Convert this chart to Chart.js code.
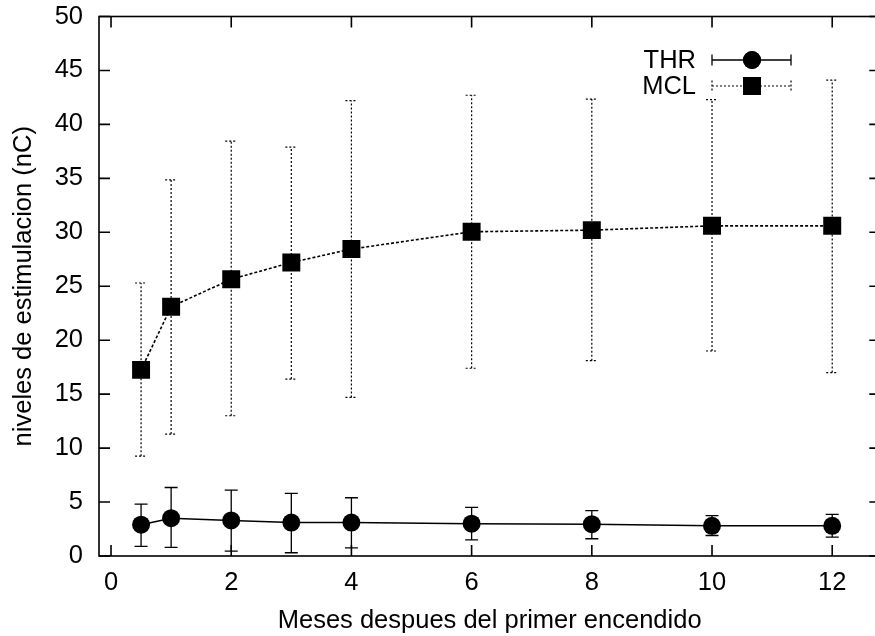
<!DOCTYPE html>
<html>
<head>
<meta charset="utf-8">
<script src="https://cdn.jsdelivr.net/npm/chart.js@4/dist/chart.umd.min.js"></script>
<style>
  html, body { margin: 0; padding: 0; background: #fff; overflow: hidden; }
  #wrap { width: 875px; height: 636px; overflow: hidden; position: relative; }
  canvas { display: block; }
</style>
</head>
<body>
<div id="wrap"><canvas id="c" width="893" height="636"></canvas></div>
<script>
// ---- data ----
const months   = [0.5, 1, 2, 3, 4, 6, 8, 10, 12];
const thrMean  = [2.9, 3.5, 3.3, 3.1, 3.1, 3.0, 2.95, 2.8, 2.8];
const thrLow   = [0.9, 0.8, 0.45, 0.3, 0.75, 1.5, 1.6, 1.9, 1.75];
const thrHigh  = [4.8, 6.35, 6.1, 5.8, 5.4, 4.5, 4.2, 3.75, 3.85];
const mclMean  = [17.25, 23.1, 25.65, 27.2, 28.45, 30.05, 30.2, 30.6, 30.6];
const mclLow   = [9.25, 11.3, 13.0, 16.4, 14.7, 17.4, 18.1, 19.0, 17.0];
const mclHigh  = [25.3, 34.85, 38.45, 37.9, 42.2, 42.7, 42.35, 42.3, 44.1];
const xTicks   = [0, 2, 4, 6, 8, 10, 12];
const yTicks   = [0, 5, 10, 15, 20, 25, 30, 35, 40, 45, 50];
const seriesNames = ['THR', 'MCL'];
const xTitle = 'Meses despues del primer encendido';
const yTitle = 'niveles de estimulacion (nC)';

const FONT = '"Liberation Sans", Arial, sans-serif';
const FSIZE = 25.5;
const toPts = (ys) => months.map((m, i) => ({ x: m, y: ys[i] }));

const errorBars = [
  { low: thrLow, high: thrHigh, dash: [], cap: 6.5, width: 1.3 },
  { low: mclLow, high: mclHigh, dash: [2, 2], cap: 6, width: 1.2 }
];

const framePlugin = {
  id: 'frame',
  beforeDatasetsDraw(chart) {
    const ctx = chart.ctx, xs = chart.scales.x, ys = chart.scales.y;
    ctx.save();
    ctx.strokeStyle = '#000';
    errorBars.forEach(eb => {
      ctx.lineWidth = eb.width;
      ctx.setLineDash(eb.dash);
      months.forEach((m, i) => {
        const px = xs.getPixelForValue(m);
        const pl = ys.getPixelForValue(eb.low[i]);
        const ph = ys.getPixelForValue(eb.high[i]);
        ctx.beginPath();
        ctx.moveTo(px, pl); ctx.lineTo(px, ph);
        ctx.moveTo(px - eb.cap, pl); ctx.lineTo(px + eb.cap, pl);
        ctx.moveTo(px - eb.cap, ph); ctx.lineTo(px + eb.cap, ph);
        ctx.stroke();
      });
    });
    ctx.restore();
  },
  afterDraw(chart) {
    const ctx = chart.ctx, a = chart.chartArea, xs = chart.scales.x, ys = chart.scales.y;
    ctx.save();
    ctx.strokeStyle = '#000';
    ctx.lineWidth = 1.6;
    ctx.setLineDash([]);
    ctx.strokeRect(a.left, a.top, a.right - a.left, a.bottom - a.top);
    const tl = 11;
    ctx.beginPath();
    xTicks.forEach(v => {
      const p = xs.getPixelForValue(v);
      ctx.moveTo(p, a.bottom); ctx.lineTo(p, a.bottom - tl);
      ctx.moveTo(p, a.top); ctx.lineTo(p, a.top + tl);
    });
    yTicks.forEach(v => {
      const p = ys.getPixelForValue(v);
      ctx.moveTo(a.left, p); ctx.lineTo(a.left + tl, p);
      ctx.moveTo(a.right, p); ctx.lineTo(a.right - tl, p);
    });
    ctx.stroke();

    // legend (gnuplot style, top right inside)
    const rows = [
      { y: 60, dash: [], style: 'circle', r: 9, lw: 1.3 },
      { y: 86, dash: [2, 2], style: 'rect', r: 12.7, lw: 1.2 }
    ];
    const x0 = 712, x1 = 791, xm = 752, cap = 5.5;
    ctx.font = FSIZE + 'px ' + FONT;
    ctx.fillStyle = '#000';
    ctx.textAlign = 'right';
    ctx.textBaseline = 'middle';
    rows.forEach((r, i) => {
      ctx.fillText(seriesNames[i], 696, r.y + 1);
      ctx.lineWidth = r.lw;
      ctx.setLineDash(r.dash);
      ctx.beginPath();
      ctx.moveTo(x0, r.y); ctx.lineTo(x1, r.y);
      ctx.moveTo(x0, r.y - cap); ctx.lineTo(x0, r.y + cap);
      ctx.moveTo(x1, r.y - cap); ctx.lineTo(x1, r.y + cap);
      ctx.stroke();
      ctx.setLineDash([]);
      Chart.helpers.drawPoint(ctx, { pointStyle: r.style, radius: r.r, borderWidth: 0 }, xm, r.y);
      ctx.fill();
    });
    ctx.restore();
  }
};

new Chart(document.getElementById('c'), {
  type: 'scatter',
  data: {
    datasets: [
      {
        label: seriesNames[0],
        data: toPts(thrMean),
        showLine: true,
        borderColor: '#000',
        backgroundColor: '#000',
        borderWidth: 1.5,
        pointStyle: 'circle',
        pointRadius: 9,
        pointBorderWidth: 0,
        pointBackgroundColor: '#000'
      },
      {
        label: seriesNames[1],
        data: toPts(mclMean),
        showLine: true,
        borderColor: '#000',
        backgroundColor: '#000',
        borderWidth: 1.6,
        borderDash: [3, 2],
        pointStyle: 'rect',
        pointRadius: 12.7,
        pointBorderWidth: 0,
        pointBackgroundColor: '#000'
      }
    ]
  },
  options: {
    responsive: false,
    devicePixelRatio: 1,
    animation: false,
    layout: { padding: { left: 0, top: 16.5, right: 5, bottom: 0 } },
    plugins: { legend: { display: false }, tooltip: { enabled: false } },
    scales: {
      x: {
        type: 'linear',
        min: -0.2, max: 12.8,
        afterBuildTicks: s => { s.ticks = xTicks.map(v => ({ value: v })); },
        afterFit: s => { s.height = 80; s.paddingLeft = 0; s.paddingRight = 0; },
        grid: { display: false, drawTicks: false },
        border: { display: false },
        ticks: { color: '#000', font: { family: FONT, size: FSIZE }, padding: 12, maxRotation: 0 },
        title: { display: true, text: xTitle, color: '#000', font: { family: FONT, size: FSIZE }, padding: { top: 0, bottom: 0 } }
      },
      y: {
        type: 'linear',
        min: 0, max: 50,
        afterBuildTicks: s => { s.ticks = yTicks.map(v => ({ value: v })); },
        afterFit: s => { s.width = 99; s.paddingTop = 0; s.paddingBottom = 0; },
        grid: { display: false, drawTicks: false },
        border: { display: false },
        ticks: { color: '#000', font: { family: FONT, size: FSIZE }, padding: 16 },
        title: { display: true, text: yTitle, color: '#000', font: { family: FONT, size: FSIZE }, padding: { top: 9, bottom: 0 } }
      }
    }
  },
  plugins: [framePlugin]
});
</script>
</body>
</html>
